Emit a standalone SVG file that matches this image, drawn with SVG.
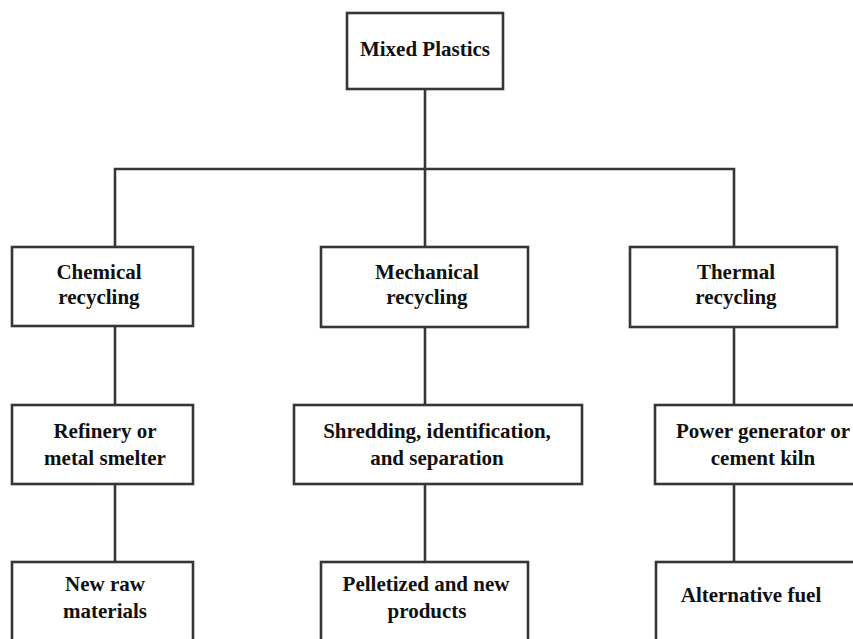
<svg xmlns="http://www.w3.org/2000/svg" width="853" height="639" viewBox="0 0 853 639">
  <style>
    .box { fill: #ffffff; stroke: #363636; stroke-width: 2.6; }
    .link { fill: none; stroke: #363636; stroke-width: 2.6; }
    .label { font-family: "Liberation Serif", "Times New Roman", serif; font-weight: bold; font-size: 21px; fill: #111111; text-anchor: middle; }
  </style>
  <rect width="853" height="639" fill="#ffffff"/>

  <!-- connectors -->
  <g id="connectors">
    <path class="link" d="M425 89 V169"/>
    <path class="link" d="M115 247 V169 H734 V247"/>
    <path class="link" d="M425 169 V247"/>
    <path class="link" d="M115 326 V405"/>
    <path class="link" d="M425 327 V405"/>
    <path class="link" d="M734 327 V405"/>
    <path class="link" d="M115 484 V562"/>
    <path class="link" d="M425 484 V562"/>
    <path class="link" d="M734 484 V562"/>
  </g>

  <!-- root -->
  <g id="mixed-plastics">
    <rect class="box" x="347" y="13" width="156" height="76"/>
    <text class="label" x="425" y="56">Mixed Plastics</text>
  </g>

  <!-- recycling routes -->
  <g id="chemical-recycling">
    <rect class="box" x="12" y="247" width="181" height="79"/>
    <text class="label" x="99" y="279">Chemical</text>
    <text class="label" x="99" y="304">recycling</text>
  </g>
  <g id="mechanical-recycling">
    <rect class="box" x="321" y="247" width="207" height="80"/>
    <text class="label" x="427" y="279">Mechanical</text>
    <text class="label" x="427" y="304">recycling</text>
  </g>
  <g id="thermal-recycling">
    <rect class="box" x="630" y="247" width="207" height="80"/>
    <text class="label" x="736" y="279">Thermal</text>
    <text class="label" x="736" y="304">recycling</text>
  </g>

  <!-- processing steps -->
  <g id="refinery">
    <rect class="box" x="12" y="405" width="181" height="79"/>
    <text class="label" x="105" y="438">Refinery or</text>
    <text class="label" x="105" y="465">metal smelter</text>
  </g>
  <g id="shredding">
    <rect class="box" x="294" y="405" width="288" height="79"/>
    <text class="label" x="437" y="438">Shredding, identification,</text>
    <text class="label" x="437" y="465">and separation</text>
  </g>
  <g id="power-generator">
    <rect class="box" x="655" y="405" width="210" height="79"/>
    <text class="label" x="763" y="438">Power generator or</text>
    <text class="label" x="763" y="465">cement kiln</text>
  </g>

  <!-- outputs -->
  <g id="new-raw-materials">
    <rect class="box" x="12" y="562" width="181" height="90"/>
    <text class="label" x="105" y="591">New raw</text>
    <text class="label" x="105" y="618">materials</text>
  </g>
  <g id="pelletized-products">
    <rect class="box" x="321" y="562" width="207" height="90"/>
    <text class="label" x="426" y="591">Pelletized and new</text>
    <text class="label" x="427" y="618">products</text>
  </g>
  <g id="alternative-fuel">
    <rect class="box" x="656" y="562" width="210" height="90"/>
    <text class="label" x="751" y="602">Alternative fuel</text>
  </g>
</svg>
